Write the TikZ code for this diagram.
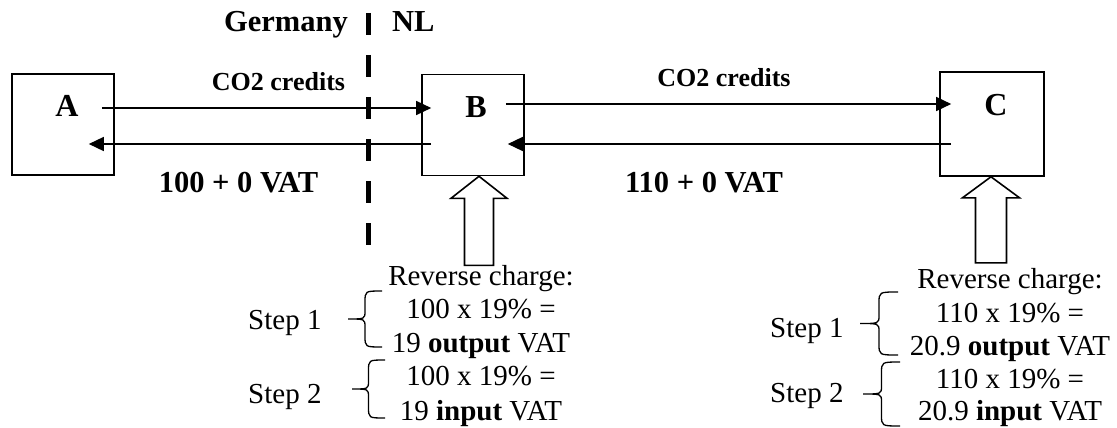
\documentclass[tikz,border=0pt]{standalone}
\usepackage{fontspec}
\setmainfont{Liberation Serif}
\usetikzlibrary{arrows.meta,calc}
\newcommand{\mybrace}[4]{% #1 base x, #2 tip x, #3 top y, #4 bottom y
  \draw[brc] (#1,#3) .. controls ({(#1+#2)/2},#3) .. ({(#1+#2)/2},{#3+11})
    -- ({(#1+#2)/2},{(#3+#4)/2-8}) .. controls ({(#1+#2)/2},{(#3+#4)/2}) .. (#2,{(#3+#4)/2})
    .. controls ({(#1+#2)/2},{(#3+#4)/2}) .. ({(#1+#2)/2},{(#3+#4)/2+8})
    -- ({(#1+#2)/2},{#4-11}) .. controls ({(#1+#2)/2},#4) .. (#1,#4);}
\begin{document}
\begin{tikzpicture}[x=1pt,y=-1pt,
  box/.style={draw,line width=1.6pt,minimum width=102pt,minimum height=101pt,inner sep=0pt},
  lab/.style={font=\fontsize{32}{36}\selectfont\bfseries,inner sep=0pt},
  big/.style={font=\fontsize{30.5}{36}\selectfont\bfseries,inner sep=0pt},
  small/.style={font=\fontsize{26}{30}\selectfont\bfseries,inner sep=0pt},
  txt/.style={font=\fontsize{29}{33}\selectfont,inner sep=0pt,anchor=base},
  arr/.style={line width=1.5pt,-{Triangle[length=15pt,width=14pt]}},
  blk/.style={line width=1.6pt,fill=white,line join=miter},
  brc/.style={line width=1.3pt},
  border/.style={line width=5pt,dash pattern=on 22pt off 20pt}
]
\useasboundingbox[fill=white] (0,0) rectangle (1117,428);

% boxes
\node[box] (A) at (63,124.5) {};
\node[box] (B) at (473,125) {};
\node[box,minimum width=104pt,minimum height=104pt] (C) at (992,124) {};
\node[lab] (Alab) at (67,106) {A};
\node[lab] (Blab) at (476,107) {B};
\node[lab] (Clab) at (996,105) {C};

% border
\node[big,anchor=base east] (de) at (348,32) {Germany};
\node[big,anchor=base west] (nl) at (392,32) {NL};
\draw[border] (368,13) -- (368,247);

% labels
\node[small,anchor=base] (co1) at (278.5,91) {CO2 credits};
\node[small,anchor=base] (co2) at (724,87) {CO2 credits};
\node[big,anchor=base] (p1) at (238.5,192) {100 + 0 VAT};
\node[big,anchor=base] (p2) at (704,192) {110 + 0 VAT};

% flows
\draw[arr] ([shift={(-13,-16.5)}]A.east) -- ([shift={(10,-17)}]B.west);
\draw[arr] ([shift={(10,19)}]B.west) -- ([shift={(-26,19.5)}]A.east);
\draw[arr] ([shift={(-19,-21)}]B.east) -- ([shift={(12,-20)}]C.west);
\draw[arr] ([shift={(12,20)}]C.west) -- ([shift={(-17,19)}]B.east);

% block arrows
\draw[blk] ($(B.south)+(6,0)$) -- ++(28,22) -- ++(-13.5,0) -- ++(0,67) -- ++(-29,0) -- ++(0,-67) -- ++(-13.5,0) -- cycle;
\draw[blk] ($(C.south)+(-1,0)$) -- ++(28.5,21) -- ++(-13,0) -- ++(0,65) -- ++(-31,0) -- ++(0,-65) -- ++(-13,0) -- cycle;

% left text block
\node[txt] (l1) at (481,285) {Reverse charge:};
\node[txt] (l2) at (481,318) {100 x 19\% =};
\node[txt] (l3) at (481,352) {19 \textbf{output} VAT};
\node[txt] (l4) at (481,385) {100 x 19\% =};
\node[txt] (l5) at (481,420) {19 \textbf{input} VAT};
\node[txt,anchor=base west] (ls1) at (248,329) {Step 1};
\node[txt,anchor=base west] (ls2) at (248,403) {Step 2};
\mybrace{382}{348}{291}{347}
\mybrace{385}{352}{360}{418}

% right text block
\node[txt] (r1) at (1010,288) {Reverse charge:};
\node[txt] (r2) at (1010,322) {110 x 19\% =};
\node[txt] (r3) at (1010,355) {20.9 \textbf{output} VAT};
\node[txt] (r4) at (1010,388) {110 x 19\% =};
\node[txt] (r5) at (1010,420) {20.9 \textbf{input} VAT};
\node[txt,anchor=base west] (rs1) at (770,337) {Step 1};
\node[txt,anchor=base west] (rs2) at (770,402) {Step 2};
\mybrace{898}{860}{292}{355}
\mybrace{900}{863}{362}{426}
\end{tikzpicture}
\end{document}
